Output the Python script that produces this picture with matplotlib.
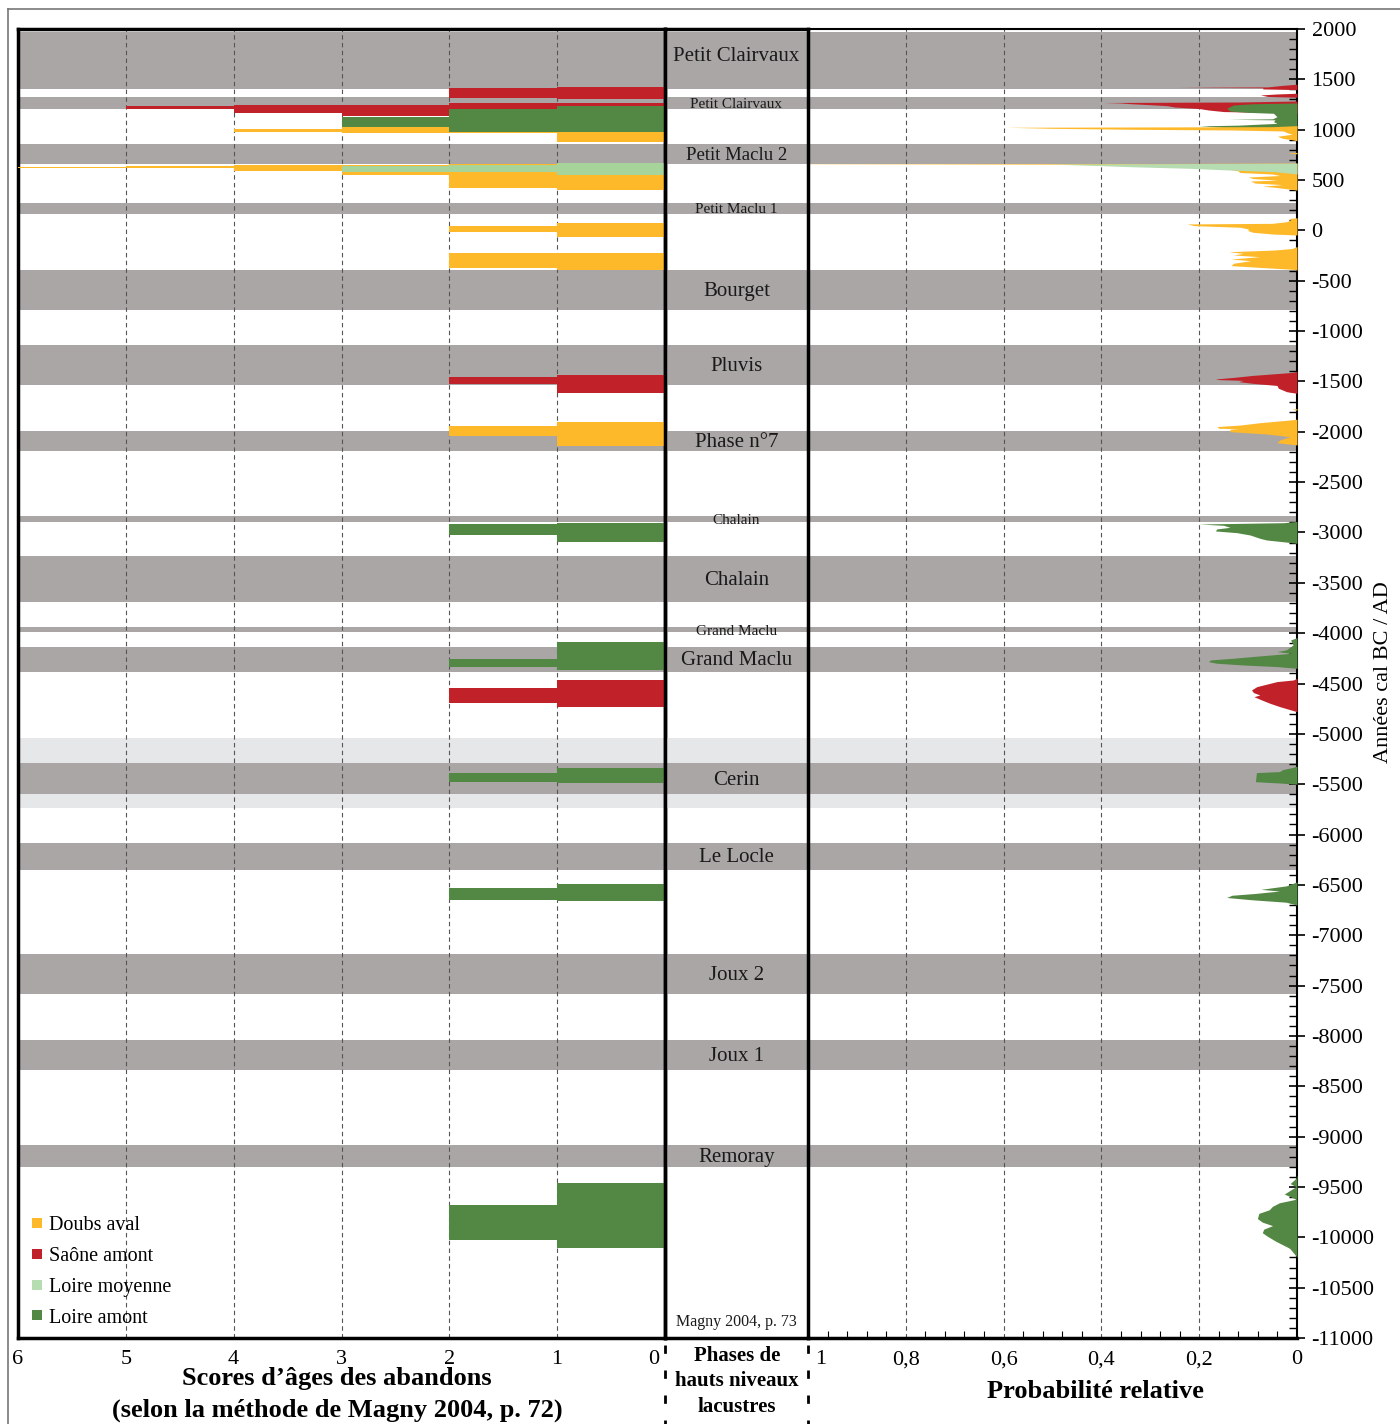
import numpy as np
import matplotlib
matplotlib.use('Agg')
import matplotlib.pyplot as plt
from matplotlib.lines import Line2D
from matplotlib.ticker import MultipleLocator, FixedLocator
from matplotlib.transforms import ScaledTranslation

plt.rcParams['font.family'] = ['Liberation Serif', 'DejaVu Serif']

# phases de hauts niveaux lacustres (annees cal BC/AD)
phase_names = ['Petit Clairvaux', 'Petit Clairvaux', 'Petit Maclu 2', 'Petit Maclu 1',
               'Bourget', 'Pluvis', 'Phase n°7', 'Chalain', 'Chalain', 'Grand Maclu',
               'Grand Maclu', 'Cerin', 'Le Locle', 'Joux 2', 'Joux 1', 'Remoray']
phase_top = [1975, 1320, 860, 275, -395, -1140, -1990, -2835, -3235, -3940,
             -4135, -5290, -6080, -7185, -8040, -9080]
phase_bottom = [1400, 1210, 660, 165, -790, -1535, -2190, -2895, -3690, -3990,
                -4385, -5600, -6350, -7580, -8335, -9300]
cerin_large = (-5040, -5735)

series_names = ['Doubs aval', 'Saône amont', 'Loire moyenne', 'Loire amont']

# scores d'ages des abandons : (score, debut, fin)
doubs_score = [6, 5, 4, 3, 2, 1, 4, 3, 2, 1, 2, 1, 2, 1, 2, 1]
doubs_start = [633, 643, 650, 643, 659, 666, 1010, 1024, 981, 970, 47, 77, -221, -221, -1939, -1900]
doubs_end = [623, 617, 590, 550, 418, 401, 980, 970, 964, 881, -19, -63, -376, -393, -2039, -2138]

saone_score = [2, 1, 5, 4, 3, 2, 1, 2, 1, 2, 1]
saone_start = [1417, 1427, 1235, 1245, 1245, 1262, 1270, -1459, -1436, -4547, -4465]
saone_end = [1312, 1302, 1203, 1169, 1139, 1203, 1235, -1528, -1618, -4696, -4736]

loire_moy_score = [3, 2, 1]
loire_moy_start = [643, 650, 666]
loire_moy_end = [583, 583, 550]

loire_am_score = [3, 2, 1, 2, 1, 2, 1, 2, 1, 2, 1, 2, 1]
loire_am_start = [1129, 1203, 1235, -2919, -2909, -4259, -4084, -5385, -5335, -6533, -6491, -9678, -9463]
loire_am_end = [1030, 980, 980, -3025, -3097, -4339, -4365, -5481, -5491, -6649, -6656, -10026, -10102]

# probabilite relative
saone_year = [1452, 1440, 1425, 1421, 1417, 1405, 1398,
              1362, 1355, 1345, 1330, 1322,
              1285, 1275, 1270, 1265, 1258, 1248, 1238, 1225, 1210, 1195, 1180, 1172, 1165,
              -1400, -1410, -1440, -1460, -1476, -1482, -1490, -1502, -1519, -1540, -1568, -1602, -1618,
              -4448, -4465, -4481, -4531, -4564, -4590, -4614, -4631, -4664, -4697, -4730, -4780]
saone_prob = [0, 0.03, 0.06, 0.245, 0.07, 0.07, 0,
              0, 0.04, 0.075, 0.06, 0,
              0, 0.12, 0.395, 0.36, 0.34, 0.3, 0.265, 0.25, 0.2, 0.18, 0.15, 0.06, 0,
              0, 0.008, 0.09, 0.13, 0.167, 0.16, 0.11, 0.12, 0.09, 0.041, 0.038, 0.021, 0,
              0, 0.0075, 0.041, 0.082, 0.093, 0.089, 0.076, 0.088, 0.072, 0.055, 0.035, 0]

loire_am_year = [1265, 1258, 1245, 1212, 1185, 1172, 1163, 1129, 1108, 1103, 1098, 1080, 1063, 1045, 1038, 1024, 1018,
                 -2890, -2903, -2916, -2929, -2949, -2965, -2985, -3002, -3025, -3058, -3075, -3091, -3108,
                 -4045, -4067, -4117, -4166, -4183, -4200, -4226, -4249, -4266, -4283, -4299, -4316, -4332, -4349,
                 -5320, -5335, -5355, -5375, -5385, -5475, -5490, -5500,
                 -6470, -6510, -6544, -6561, -6585, -6603, -6625, -6648, -6672, -6701,
                 -9380, -9414, -9466, -9497, -9570, -9622, -9657, -9692, -9727, -9762, -9814, -9849,
                 -9884, -9919, -9954, -9988, -10040, -10109, -10197]
loire_am_prob = [0, 0.09, 0.13, 0.144, 0.137, 0.1, 0.048, 0.041, 0.05, 0.14, 0.045, 0.048, 0.041, 0.12, 0.2, 0.15, 0,
                 0, 0.027, 0.2, 0.15, 0.137, 0.164, 0.167, 0.123, 0.096, 0.076, 0.062, 0.03, 0,
                 0, 0.013, 0.008, 0.022, 0.041, 0.012, 0.076, 0.13, 0.177, 0.181, 0.164, 0.11, 0.041, 0,
                 0, 0.01, 0.029, 0.036, 0.083, 0.085, 0.03, 0,
                 0, 0.022, 0.074, 0.036, 0.085, 0.133, 0.144, 0.092, 0.022, 0,
                 0, 0.002, 0.014, 0.002, 0.026, 0.002, 0.036, 0.05, 0.057, 0.078, 0.081, 0.071,
                 0.05, 0.068, 0.071, 0.061, 0.043, 0.015, 0]

doubs_year = [1040, 1030, 1024, 1014, 1004, 997, 987, 970, 955, 935, 915, 900, 890,
              775, 768, 760,
              669, 664, 662, 660, 657, 652, 640, 630, 620, 605, 590, 575, 560, 545, 530, 515, 500, 490,
              470, 455, 440, 425, 410, 400,
              125, 120, 103, 87, 70, 64, 47, 31, 14, -3, -19, -36, -46,
              -160, -180, -195, -212, -228, -244, -261, -284, -301, -327, -350, -367, -387, -395,
              -1770, -1777, -1785, -1875, -1883, -1910, -1933, -1949, -1965, -1970, -1975, -1999,
              -2022, -2049, -2081, -2108, -2131]
doubs_prob = [0, 0.05, 0.593, 0.504, 0.334, 0.13, 0.028, 0.02, 0.01, 0.04, 0.03, 0.01, 0,
              0, 0.02, 0,
              0, 0.3, 1.0, 1.0, 0.5, 0.4, 0.3, 0.25, 0.18, 0.137, 0.12, 0.117, 0.05, 0.035, 0.1, 0.09, 0.04, 0.095,
              0.086, 0.03, 0.07, 0.04, 0.015, 0,
              0, 0.014, 0.014, 0.02, 0.05, 0.225, 0.21, 0.116, 0.1, 0.1, 0.09, 0.05, 0,
              0, 0.01, 0.046, 0.14, 0.11, 0.13, 0.077, 0.135, 0.095, 0.13, 0.135, 0.078, 0.007, 0,
              0, 0.01, 0, 0, 0.014, 0.076, 0.116, 0.164, 0.16, 0.12, 0.137, 0.137,
              0.062, 0.014, 0.035, 0.041, 0]

loire_moy_year = [668, 662, 659, 643, 633, 616, 600, 583, 567, 560]
loire_moy_prob = [0, 0.3, 0.508, 0.40, 0.345, 0.216, 0.14, 0.045, 0.012, 0]

year_ticks = list(range(2000, -11001, -500))
score_ticks = [6, 5, 4, 3, 2, 1, 0]
prob_ticks = [1, 0.8, 0.6, 0.4, 0.2, 0]
prob_labels = ['1', '0,8', '0,6', '0,4', '0,2', '0']

W, H = 1400, 1424
GRAY = '#aaa6a6'
LIGHT = '#e6e7e9'
YELLOW = '#fdb92a'
RED = '#c1222a'
LGREEN = '#a6d49a'
LGREEN_D = '#b6dcb2'
GREEN = '#538744'


def fx(x):
    return x / W


def fy(y):
    return 1 - y / H


def draw_bands(ax):
    ax.axhspan(cerin_large[1], cerin_large[0], color=LIGHT, lw=0, zorder=0)
    for top, bot in zip(phase_top, phase_bottom):
        ax.axhspan(bot, top, color=GRAY, lw=0, zorder=0.5)


def draw_bars(ax, scores, starts, ends, color):
    s = np.array(starts)
    e = np.array(ends)
    ax.barh((s + e) / 2, scores, height=s - e, left=0, color=color, lw=0, zorder=3)


def shift_label(fig, label, dx):
    # decale un label de dx pixels
    label.set_transform(label.get_transform() + ScaledTranslation(dx / 100, 0, fig.dpi_scale_trans))


def main():
    fig = plt.figure(figsize=(14, 14.24), dpi=100)
    bottom, height = fy(1338), 1309 / H
    ax_l = fig.add_axes([fx(18), bottom, 647 / W, height])
    ax_r = fig.add_axes([fx(808), bottom, 489 / W, height], sharey=ax_l)
    ax_m = fig.add_axes([fx(665), bottom, 143 / W, height], sharey=ax_l)
    ax_m.set_zorder(5)

    for ax in (ax_l, ax_m, ax_r):
        draw_bands(ax)

    # panneau gauche : scores
    ax_l.set_xlim(6, 0)
    for s in [1, 2, 3, 4, 5]:
        ax_l.axvline(s, color='#555555', lw=0.8, ls=(0, (4, 3)), zorder=1)
    draw_bars(ax_l, doubs_score, doubs_start, doubs_end, YELLOW)
    draw_bars(ax_l, loire_moy_score, loire_moy_start, loire_moy_end, LGREEN)
    draw_bars(ax_l, saone_score, saone_start, saone_end, RED)
    draw_bars(ax_l, loire_am_score, loire_am_start, loire_am_end, GREEN)
    ax_l.set_xticks(score_ticks)
    ax_l.set_xticklabels([str(s) for s in score_ticks])
    ax_l.tick_params(axis='x', length=0, pad=9, labelsize=16)
    last = ax_l.get_xticklabels()[-1]
    last.set_horizontalalignment('right')
    shift_label(fig, last, -6)
    ax_l.tick_params(axis='y', which='both', left=False, right=False, labelleft=False)
    for sp in ax_l.spines.values():
        sp.set_linewidth(2.5)

    handles = [Line2D([], [], marker='s', ls='none', markersize=7.5, color=c, markeredgewidth=0)
               for c in [YELLOW, RED, LGREEN_D, GREEN]]
    ax_l.legend(handles, series_names, loc='lower left', bbox_to_anchor=(0.02, 0.008),
                frameon=False, fontsize=14.5, handlelength=0.6, handletextpad=0.3,
                labelspacing=0.58, borderpad=0, borderaxespad=0)

    # panneau central : phases
    ax_m.set_xlim(0, 1)
    ax_m.set_xticks([])
    ax_m.tick_params(axis='y', which='both', left=False, right=False, labelleft=False)
    ax_m.patch.set_alpha(0)
    sizes = [15, 11, 13.5, 11, 15, 15, 15, 11, 15, 11, 15, 15, 15, 15, 15, 15]
    for name, top, bot, size in zip(phase_names, phase_top, phase_bottom, sizes):
        yc = (top + bot) / 2 - 15
        if bot == 1400:
            yc += 50
        ax_m.text(0.5, yc, name, ha='center', va='center',
                  fontsize=size, color='#1a1a1a', zorder=4)
    ax_m.text(0.5, -10840, 'Magny 2004, p. 73', ha='center', va='center', fontsize=11.5, color='#1a1a1a')
    for sp in ax_m.spines.values():
        sp.set_linewidth(2.5)

    # panneau droit : probabilite relative
    ax_r.set_xlim(1, 0)
    for p in [0.2, 0.4, 0.6, 0.8]:
        ax_r.axvline(p, color='#555555', lw=0.8, ls=(0, (4, 3)), zorder=1)
    ax_r.fill_betweenx(saone_year, 0, saone_prob, color=RED, lw=0, zorder=3)
    ax_r.fill_betweenx(loire_am_year, 0, loire_am_prob, color=GREEN, lw=0, zorder=3.1)
    ax_r.fill_betweenx(doubs_year, 0, doubs_prob, color=YELLOW, lw=0, zorder=3.2)
    ax_r.fill_betweenx(loire_moy_year, 0, loire_moy_prob, color=LGREEN_D, lw=0, zorder=3.3)

    ax_r.set_xticks(prob_ticks)
    ax_r.set_xticklabels(prob_labels)
    ax_r.xaxis.set_minor_locator(MultipleLocator(0.04))
    ax_r.tick_params(axis='x', which='major', length=0, pad=9, labelsize=16)
    ax_r.tick_params(axis='x', which='minor', direction='in', length=5, width=0.8)
    first = ax_r.get_xticklabels()[0]
    shift_label(fig, first, 13)

    ax_r.yaxis.tick_right()
    ax_r.yaxis.set_major_locator(FixedLocator(year_ticks))
    ax_r.yaxis.set_minor_locator(MultipleLocator(100))
    ax_r.set_yticklabels([str(t) for t in year_ticks])
    ax_r.tick_params(axis='y', which='major', direction='inout', length=11, width=1.2,
                     pad=5, labelsize=16, left=False, right=True, labelleft=False, labelright=True)
    ax_r.tick_params(axis='y', which='minor', direction='in', length=6, width=1,
                     left=False, right=True)
    ax_r.spines['left'].set_visible(False)
    ax_r.spines['top'].set_linewidth(1.5)
    ax_r.spines['bottom'].set_linewidth(2.5)
    ax_r.spines['right'].set_linewidth(1.5)
    ax_l.set_ylim(-11000, 2000)

    # titres
    fig.text(fx(337), fy(1379), 'Scores d’âges des abandons', ha='center', va='center',
             fontsize=19, fontweight='bold')
    fig.text(fx(337), fy(1410), '(selon la méthode de Magny 2004, p. 72)', ha='center', va='center',
             fontsize=19, fontweight='bold')
    for y, line in zip([1356, 1381, 1407], ['Phases de', 'hauts niveaux', 'lacustres']):
        fig.text(fx(737), fy(y), line, ha='center', va='center', fontsize=15, fontweight='bold')
    fig.text(fx(1095), fy(1391), 'Probabilité relative', ha='center', va='center',
             fontsize=19, fontweight='bold')
    fig.text(fx(1384), fy(672), 'Années cal BC / AD', ha='center', va='center',
             rotation=90, fontsize=16)

    # traits separateurs sous le panneau central
    for x in [665, 808]:
        fig.add_artist(Line2D([fx(x), fx(x)], [fy(1345), fy(1424)], color='black', lw=2,
                              ls=(0, (3, 6))))
    # cadre exterieur
    fig.add_artist(Line2D([fx(8), fx(8)], [fy(9), 0], color='#777777', lw=1.2))
    fig.add_artist(Line2D([fx(8), 1], [fy(9), fy(9)], color='#777777', lw=1.2))

    fig.savefig('out.png', dpi=100)


if __name__ == "__main__":
    main()
